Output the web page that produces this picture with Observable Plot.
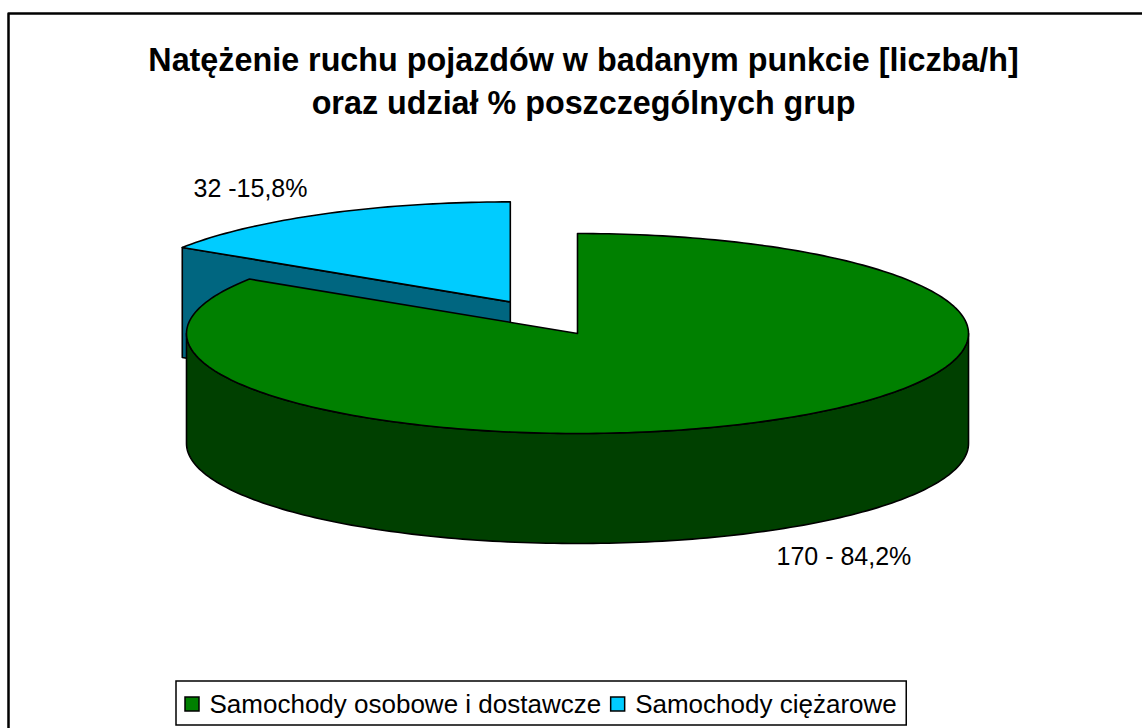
<!DOCTYPE html>
<html><head><meta charset="utf-8">
<script src="https://cdn.jsdelivr.net/npm/d3@7"></script>
<script src="https://cdn.jsdelivr.net/npm/@observablehq/plot@0.6"></script>
<style>html,body{margin:0;padding:0;background:#fff;overflow:hidden}</style>
</head><body><div id="chart"></div>
<script>
// ---- data ----
const categories = ["Samochody osobowe i dostawcze", "Samochody ciężarowe"];
const values = [170, 32];
const sliceLabels = ["170 - 84,2%", "32 -15,8%"];
const topColors = ["#008000", "#00CCFF"];
const sideColors = ["#004000", "#006680"];
const explode = [0, 0.36];
const titleLines = ["Natężenie ruchu pojazdów w badanym punkcie [liczba/h]", "oraz udział % poszczególnych grup"];

// ---- layout ----
const W = 1142, H = 728;
const cx = 577, cy = 333, rx = 391, ry = 100, depth = 110;
const FONT = "'Liberation Sans', Arial, sans-serif";
const total = d3.sum(values);
let acc = 0;
const slices = values.map((v, i) => {
  const a0 = acc / total * 2 * Math.PI; acc += v;
  const a1 = acc / total * 2 * Math.PI;
  const mid = (a0 + a1) / 2, e = explode[i];
  return {i, a0, a1, mid, ox: cx + e * rx * Math.sin(mid), oy: cy - e * ry * Math.cos(mid)};
});
const pt = (s, a, dz = 0) => ({x: s.ox + rx * Math.sin(a), y: s.oy - ry * Math.cos(a) + dz});
const arc = (s, a0, a1, dz = 0) => {
  const n = Math.max(2, Math.ceil(Math.abs(a1 - a0) / 0.02));
  return d3.range(n + 1).map(k => pt(s, a0 + (a1 - a0) * k / n, dz));
};
const polys = [];
[...slices].sort((a, b) => -Math.cos(a.mid) + Math.cos(b.mid)).forEach(s => {
  const c = {x: s.ox, y: s.oy}, cb = {x: s.ox, y: s.oy + depth};
  if (Math.sin(s.a0) < -1e-6) polys.push({pts: [c, pt(s, s.a0), pt(s, s.a0, depth), cb], fill: sideColors[s.i]});
  if (Math.sin(s.a1) > 1e-6) polys.push({pts: [c, pt(s, s.a1), pt(s, s.a1, depth), cb], fill: sideColors[s.i]});
  const st = Math.max(s.a0, Math.PI / 2), en = Math.min(s.a1, 3 * Math.PI / 2);
  if (en > st) polys.push({pts: [...arc(s, st, en), ...arc(s, en, st, depth)], fill: sideColors[s.i]});
  polys.push({pts: [c, ...arc(s, s.a0, s.a1), c], fill: topColors[s.i]});
});

// legend layout (measured)
const ctx = document.createElement("canvas").getContext("2d");
const LFS = 26;
ctx.font = `${LFS}px ${FONT}`;
const legY1 = 681, legY2 = 725, legX = 176;
let lx = legX + 9;
const legend = categories.map((c, i) => {
  const sq = {x1: lx, x2: lx + 14, y1: 697, y2: 711, fill: topColors[i]};
  const tx = lx + 24;
  lx = tx + ctx.measureText(c).width + 10;
  return {sq, tx, label: c};
});
const legX2 = lx;

const marks = [
  Plot.line([{x: 8, y: H}, {x: 8, y: 13}, {x: W, y: 13}], {x: "x", y: "y", stroke: "black", strokeWidth: 2.5}),
  ...polys.map(p => Plot.line(p.pts, {x: "x", y: "y", fill: p.fill, stroke: "black", strokeWidth: 1.6, curve: "linear-closed", strokeLinejoin: "round"})),
  Plot.text(titleLines, {x: () => 583, y: (d, i) => 60 + i * 43, text: d => d, fontSize: 32.3, fontWeight: "bold", fontFamily: FONT, fill: "black"}),
  Plot.text([sliceLabels[1]], {x: () => 193, y: () => 188, text: d => d, textAnchor: "start", fontSize: 25, fontFamily: FONT, fill: "black"}),
  Plot.text([sliceLabels[0]], {x: () => 776, y: () => 556, text: d => d, textAnchor: "start", fontSize: 25, fontFamily: FONT, fill: "black"}),
  Plot.rect([{x1: legX, x2: legX2, y1: legY1, y2: legY2}], {x1: "x1", x2: "x2", y1: "y1", y2: "y2", fill: "white", stroke: "black", strokeWidth: 1.5}),
  Plot.rect(legend.map(d => d.sq), {x1: "x1", x2: "x2", y1: "y1", y2: "y2", fill: "fill", stroke: "black", strokeWidth: 1.5}),
  Plot.text(legend, {x: "tx", y: () => 704, text: "label", textAnchor: "start", fontSize: LFS, fontFamily: FONT, fill: "black"})
];

const chart = Plot.plot({
  width: W, height: H, margin: 0,
  x: {domain: [0, W], range: [0, W], axis: null},
  y: {domain: [0, H], range: [0, H], axis: null},
  color: {type: "identity"},
  style: {background: "white", fontFamily: FONT},
  marks
});
document.getElementById("chart").appendChild(chart);
</script>
</body></html>
